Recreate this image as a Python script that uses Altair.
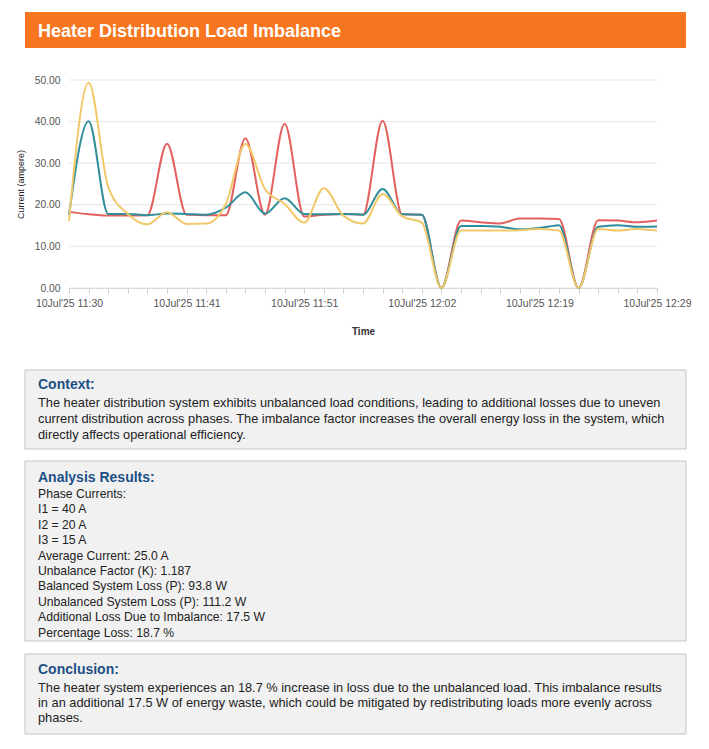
import json
import altair as alt
import pandas as pd

# ---------------- data ----------------
times = [
    "10Jul'25 11:30", "10Jul'25 11:32", "10Jul'25 11:34", "10Jul'25 11:36", "10Jul'25 11:37", "10Jul'25 11:39",
    "10Jul'25 11:41", "10Jul'25 11:43", "10Jul'25 11:44", "10Jul'25 11:46", "10Jul'25 11:48", "10Jul'25 11:49",
    "10Jul'25 11:51", "10Jul'25 11:53", "10Jul'25 11:55", "10Jul'25 11:57", "10Jul'25 11:58", "10Jul'25 12:00",
    "10Jul'25 12:02", "10Jul'25 12:05", "10Jul'25 12:08", "10Jul'25 12:10", "10Jul'25 12:13", "10Jul'25 12:16",
    "10Jul'25 12:19", "10Jul'25 12:21", "10Jul'25 12:22", "10Jul'25 12:24", "10Jul'25 12:26", "10Jul'25 12:27",
    "10Jul'25 12:29",
]
shown_labels = ["10Jul'25 11:30", "10Jul'25 11:41", "10Jul'25 11:51",
                "10Jul'25 12:02", "10Jul'25 12:19", "10Jul'25 12:29"]

phase1 = [18.3, 17.7, 17.4, 17.4, 17.5, 34.7, 17.6, 17.5, 17.5, 36.0, 17.6, 39.5, 17.2, 17.6, 17.8, 17.6,
          40.2, 17.7, 17.6, 0.0, 16.2, 15.8, 15.5, 16.7, 16.7, 16.6, 0.0, 16.3, 16.2, 15.8, 16.2]
phase2 = [17.5, 40.1, 17.8, 17.8, 17.5, 17.9, 17.8, 17.6, 19.3, 23.0, 17.9, 21.6, 17.8, 17.7, 17.8, 17.6,
          23.8, 17.7, 17.6, 0.0, 14.9, 14.9, 14.7, 14.1, 14.4, 15.1, 0.0, 14.7, 15.1, 14.7, 14.8]
phase3 = [16.1, 49.4, 24.3, 17.8, 15.3, 18.2, 15.4, 15.5, 20.2, 34.6, 23.8, 20.2, 15.7, 24.0, 17.4, 15.5,
          22.6, 17.2, 15.7, 0.0, 13.8, 13.8, 13.8, 13.9, 14.2, 13.8, 0.0, 14.2, 13.8, 14.2, 13.8]

series_names = ["Phase 1", "Phase 2", "Phase 3"]
series_colors = ["#e3605e", "#2f8e9b", "#f1c96b"]
grid_values = [0, 10, 20, 30, 40, 50]

title_text = "Heater Distribution Load Imbalance"
context_head = "Context:"
context_lines = [
    "The heater distribution system exhibits unbalanced load conditions, leading to additional losses due to uneven",
    "current distribution across phases. The imbalance factor increases the overall energy loss in the system, which",
    "directly affects operational efficiency.",
]
analysis_head = "Analysis Results:"
analysis_lines = [
    "Phase Currents:",
    "I1 = 40 A",
    "I2 = 20 A",
    "I3 = 15 A",
    "Average Current: 25.0 A",
    "Unbalance Factor (K): 1.187",
    "Balanced System Loss (P): 93.8 W",
    "Unbalanced System Loss (P): 111.2 W",
    "Additional Loss Due to Imbalance: 17.5 W",
    "Percentage Loss: 18.7 %",
]
conclusion_head = "Conclusion:"
conclusion_lines = [
    "The heater system experiences an 18.7 % increase in loss due to the unbalanced load. This imbalance results",
    "in an additional 17.5 W of energy waste, which could be mitigated by redistributing loads more evenly across",
    "phases.",
]

# ---------------- tables ----------------
rows = []
for name, vals in zip(series_names, [phase1, phase2, phase3]):
    for t, v in zip(times, vals):
        rows.append({"Time": t, "Current": v, "Phase": name})
df = pd.DataFrame(rows)
grid_df = pd.DataFrame({"Current": grid_values})
one = alt.InlineData(values=[{"k": 0}])

FONT = "Liberation Sans"
W, H = 588, 208

x_scale = alt.Scale(type="point", padding=0, domain=times)
y_scale = alt.Scale(domain=[0, 50])

label_expr = "indexof(" + json.dumps(shown_labels) + ", datum.value) >= 0 ? datum.value : ''"

y_axis = alt.Axis(title="Current (ampere)", format=".2f", values=grid_values,
                  ticks=False, domain=False, grid=False, labelPadding=9,
                  labelFont=FONT, labelFontSize=10.3, labelColor="#555555",
                  titleFont=FONT, titleFontSize=9, titleFontWeight="normal",
                  titleColor="#222222", titleX=-44)

grid = alt.Chart(grid_df).mark_rule(color="#e6e6e6", strokeWidth=1).encode(
    y=alt.Y("Current:Q", scale=y_scale, axis=y_axis),
    x=alt.value(0),
    x2=alt.value(W),
)

lines = alt.Chart(df).mark_line(interpolate="monotone", strokeWidth=2).encode(
    x=alt.X("Time:N", scale=x_scale, sort=times,
            axis=alt.Axis(title="Time", labelAngle=0, labelExpr=label_expr,
                          labelFont=FONT, labelFontSize=10.5, labelColor="#555555",
                          labelPadding=5, tickSize=5, tickColor="#cccccc",
                          domainColor="#cccccc", grid=False, labelOverlap=False,
                          titleFont=FONT, titleFontSize=10, titleFontWeight="bold",
                          titleColor="#333333", titleY=43, titleBaseline="middle")),
    y=alt.Y("Current:Q", scale=y_scale, axis=y_axis),
    color=alt.Color("Phase:N", scale=alt.Scale(domain=series_names, range=series_colors), legend=None),
    order=alt.Order("Phase:N"),
)


def box(y0, y1):
    return alt.Chart(one).mark_rect(fill="#f1f1f1", stroke="#c3c3c3", strokeWidth=1).encode(
        x=alt.value(-44), x2=alt.value(617), y=alt.value(y0), y2=alt.value(y1))


def head(txt, y):
    return alt.Chart(one).mark_text(
        align="left", baseline="alphabetic", font=FONT, fontSize=14, fontWeight="bold", color="#1d4f86"
    ).encode(x=alt.value(-31), y=alt.value(y), text=alt.value(txt))


def body(lines_, y, lh, size):
    return alt.Chart(one).mark_text(
        align="left", baseline="alphabetic", font=FONT, fontSize=size, color="#222222", lineHeight=lh
    ).encode(x=alt.value(-31), y=alt.value(y), text=alt.value(lines_))


title_bar = alt.Chart(one).mark_rect(fill="#f7761f").encode(
    x=alt.value(-44), x2=alt.value(617), y=alt.value(-68), y2=alt.value(-32))
title_lbl = alt.Chart(one).mark_text(
    align="left", baseline="alphabetic", font=FONT, fontSize=18, fontWeight="bold", color="white"
).encode(x=alt.value(-31), y=alt.value(-43), text=alt.value(title_text))

chart = alt.layer(
    title_bar, title_lbl,
    grid, lines,
    box(290, 369), head(context_head, 309), body(context_lines, 327, 16, 12.8),
    box(381, 561), head(analysis_head, 402), body(analysis_lines, 418, 15.4, 12.2),
    box(574, 654), head(conclusion_head, 594), body(conclusion_lines, 612, 15, 12.8),
).resolve_scale(x="shared", y="shared").properties(
    width=W, height=H,
    autosize=alt.AutoSizeParams(type="none"),
    padding={"left": 61, "top": 72, "right": 44, "bottom": 453},
    background="white",
).configure_view(stroke=None)

chart.save("out.html", embed_options={"renderer": "svg", "actions": False})
